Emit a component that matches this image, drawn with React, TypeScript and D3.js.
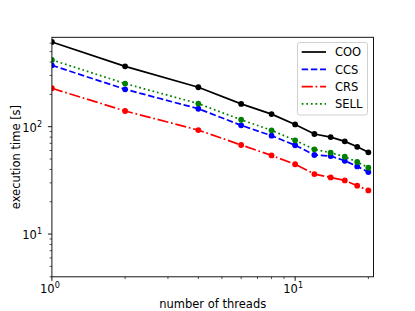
import React from "react";
import * as d3 from "d3";

const threads = [1, 2, 4, 6, 8, 10, 12, 14, 16, 18, 20];
const cooTimes = [615, 365, 233, 163, 131, 105, 85.5, 80, 73, 65, 57.7];
const ccsTimes = [373, 223, 147, 103, 82.4, 67.2, 54.5, 53.3, 48.2, 42.7, 37.8];
const crsTimes = [228, 140, 93, 67.5, 54, 44.7, 36.2, 33.7, 31.6, 28.2, 25.5];
const sellTimes = [419, 252, 164, 116, 92.5, 74.7, 61.5, 57.3, 52.5, 46.9, 41.5];
const seriesNames = ["COO", "CCS", "CRS", "SELL"];
const xLabel = "number of threads";
const yLabel = "execution time [s]";

const W = 415;
const H = 311;
const L = 51.9;
const R = 373.5;
const T = 37.3;
const B = 276.8;
const FONT = "DejaVu Sans, sans-serif";
const FS = 11.5;

const styles = [
  { color: "#000000", dash: "none" },
  { color: "#0000ff", dash: "6.4,2.77" },
  { color: "#ff0000", dash: "11.1,2.77,1.73,2.77" },
  { color: "#008000", dash: "1.73,2.85" },
];

function SupLabel({ x, y, exp, anchor }: { x: number; y: number; exp: number; anchor: string }) {
  return (
    <text x={x} y={y} textAnchor={anchor} fontFamily={FONT} fontSize={FS} fill="#000">
      <tspan>10</tspan>
      <tspan dy={-4.6} fontSize={FS * 0.7}>{String(exp)}</tspan>
    </text>
  );
}

export default function App() {
  const x = d3.scaleLog().domain([1, 21]).range([L, R]);
  const y = d3.scaleLog().domain([4, 680]).range([B, T]);
  const all = [cooTimes, ccsTimes, crsTimes, sellTimes];

  const line = d3
    .line<number>()
    .x((_, i) => x(threads[i]))
    .y((d) => y(d));

  const isMajor = (v: number) => Math.abs(Math.log10(v) - Math.round(Math.log10(v))) < 1e-9;
  const xTicks = x.ticks();
  const yTicks = y.ticks();

  return (
    <svg
      width={W}
      height={H}
      style={{ position: "absolute", left: 0, top: 0, background: "#fff" }}
    >
      <defs>
        <clipPath id="plotclip">
          <rect x={L} y={T} width={R - L} height={B - T} />
        </clipPath>
      </defs>
      <rect x={0} y={0} width={W} height={H} fill="#fff" />

      <g clipPath="url(#plotclip)">
        {all.map((vals, si) => (
          <g key={si}>
            <path
              d={line(vals) || ""}
              fill="none"
              stroke={styles[si].color}
              strokeWidth={1.73}
              strokeDasharray={styles[si].dash}
            />
            {vals.map((v, i) => (
              <circle key={i} cx={x(threads[i])} cy={y(v)} r={2.9} fill={styles[si].color} />
            ))}
          </g>
        ))}
      </g>

      {/* ticks */}
      {xTicks.map((t, i) => {
        const major = isMajor(t);
        const len = major ? 4 : 2.3;
        return (
          <line
            key={"xt" + i}
            x1={x(t)}
            x2={x(t)}
            y1={B}
            y2={B + len}
            stroke="#000"
            strokeWidth={major ? 0.92 : 0.69}
          />
        );
      })}
      {yTicks.map((t, i) => {
        const major = isMajor(t);
        const len = major ? 4 : 2.3;
        return (
          <line
            key={"yt" + i}
            x1={L - len}
            x2={L}
            y1={y(t)}
            y2={y(t)}
            stroke="#000"
            strokeWidth={major ? 0.92 : 0.69}
          />
        );
      })}
      {xTicks.filter(isMajor).map((t, i) => (
        <SupLabel key={"xl" + i} x={x(t) - 2} y={292.5} exp={Math.round(Math.log10(t))} anchor="middle" />
      ))}
      {yTicks.filter(isMajor).map((t, i) => (
        <SupLabel key={"yl" + i} x={42} y={y(t) + 5} exp={Math.round(Math.log10(t))} anchor="end" />
      ))}

      {/* frame */}
      <rect x={L} y={T} width={R - L} height={B - T} fill="none" stroke="#000" strokeWidth={0.92} />

      {/* axis labels */}
      <text x={(L + R) / 2} y={307.5} textAnchor="middle" fontFamily={FONT} fontSize={FS} fill="#000">
        {xLabel}
      </text>
      <text
        transform={`translate(20,${(T + B) / 2}) rotate(-90)`}
        textAnchor="middle"
        fontFamily={FONT}
        fontSize={FS}
        fill="#000"
      >
        {yLabel}
      </text>

      {/* legend */}
      <g>
        <rect
          x={297.5}
          y={42.5}
          width={70}
          height={72.5}
          rx={2.3}
          fill="#fff"
          fillOpacity={0.8}
          stroke="#cccccc"
          strokeWidth={0.92}
        />
        {seriesNames.map((name, i) => {
          const cy = 52 + i * 17.3;
          return (
            <g key={name}>
              <line
                x1={301.7}
                x2={326}
                y1={cy}
                y2={cy}
                stroke={styles[i].color}
                strokeWidth={1.73}
                strokeDasharray={styles[i].dash}
              />
              <text x={335} y={cy + 4.2} fontFamily={FONT} fontSize={FS} fill="#000">
                {name}
              </text>
            </g>
          );
        })}
      </g>
    </svg>
  );
}
